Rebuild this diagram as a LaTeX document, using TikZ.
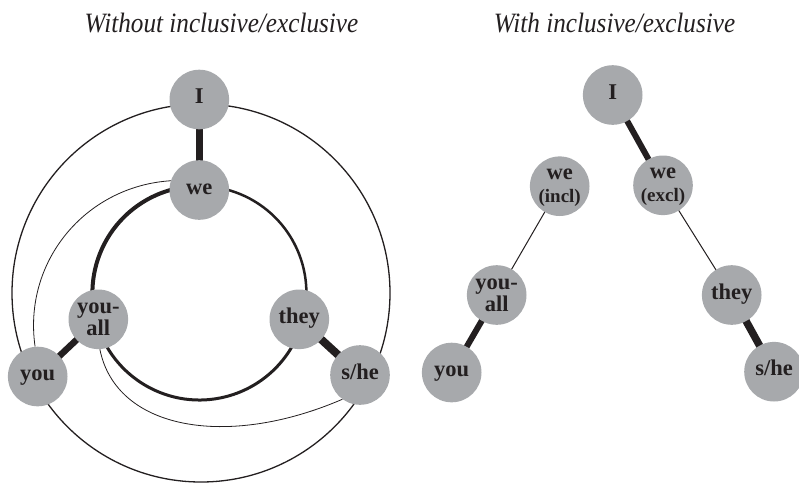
\documentclass[tikz,border=0pt]{standalone}
\usepackage{fontspec}
\setmainfont{Liberation Serif}
\newfontfamily\titlefont[FakeStretch=0.9]{Liberation Serif}
\usetikzlibrary{backgrounds}
\definecolor{ink}{RGB}{35,31,32}
\definecolor{disc}{RGB}{167,169,172}
\begin{document}
\begin{tikzpicture}[x=1pt,y=1pt,
  pron/.style={circle, fill=disc, draw=none, minimum size=59.6pt, inner sep=0pt,
    text=ink, font=\fontsize{22.5}{19.5}\selectfont\bfseries,
    text height=12.5pt, text depth=4.5pt},
  pron2/.style={pron, align=center, text height=32pt, text depth=0pt},
  link/.style={draw=ink, line width=#1},
  ring/.style={draw=ink, line width=#1},
  title/.style={font=\titlefont\fontsize{28}{32}\selectfont\itshape, text=ink, anchor=base}
]
\useasboundingbox (0,0) rectangle (799,-483);

% titles
\node[title] (t1) at (221.5,-32.5) {Without inclusive/exclusive};
\node[title] (t2) at (614.5,-32.5) {With inclusive/exclusive};

% ---- person system without the inclusive/exclusive split ----
\node[pron]  (I1)    at (199.3,-99.5)  {I};
\node[pron]  (we1)   at (199.3,-190)   {we};
\node[pron2] (ya1)   at (98.3,-319.3)  {you-\\all};
\node[pron]  (they1) at (299.3,-319.3) {they};
\node[pron]  (you1)  at (37.7,-376.5)  {you};
\node[pron]  (she1)  at (360,-375)     {s/he};

\coordinate (outerc) at (201,-293);
\coordinate (innerc) at (199.4,-293);

\begin{pgfonlayer}{background}
  % outer ring through I, you and s/he
  \draw[ring=1.3] (outerc) circle[radius=189];
  % inner ring through we, you-all and they
  \draw[ring=4]   (innerc) ++(90:107)  arc[start angle=90,  end angle=195, radius=107];
  \draw[ring=3]   (innerc) ++(195:107) arc[start angle=195, end angle=345, radius=107];
  \draw[ring=2.5] (innerc) ++(345:107) arc[start angle=345, end angle=450, radius=107];
  % thin curved links
  \draw[link=0.8] (we1.162) .. controls (85.1,-186.3) and (22.8,-261.8) .. (you1.95);
  \draw[link=0.8] (ya1.-87) .. controls (116,-430) and (227,-449) .. (she1.234);
  % strong links
  \draw[link=6.5] (I1.center) -- (we1.center);
  \draw[link=6.5] (you1.center) -- (ya1.center);
  \draw[link=8]   (they1.center) -- (she1.center);
\end{pgfonlayer}

% ---- person system with the inclusive/exclusive split ----
\node[pron]  (I2)    at (612.7,-95)    {I};
\node[pron2] (wi2)   at (559.7,-186.2) {we\\[3.5pt]{\fontsize{19}{19}\selectfont (incl)}};
\node[pron2] (we2)   at (663,-185.3)   {we\\[3.5pt]{\fontsize{19}{19}\selectfont (excl)}};
\node[pron2] (ya2)   at (496.7,-295)   {you-\\all};
\node[pron]  (they2) at (731.7,-295)   {they};
\node[pron]  (you2)  at (451.7,-372.5) {you};
\node[pron]  (she2)  at (774,-371.7)   {s/he};

\begin{pgfonlayer}{background}
  \draw[link=6]   (I2.center) -- (we2.center);
  \draw[link=1]   (wi2.center) -- (ya2.center);
  \draw[link=1]   (we2.center) -- (they2.center);
  \draw[link=6]   (ya2.center) -- (you2.center);
  \draw[link=7.5] (they2.center) -- (she2.center);
\end{pgfonlayer}
\end{tikzpicture}
\end{document}
